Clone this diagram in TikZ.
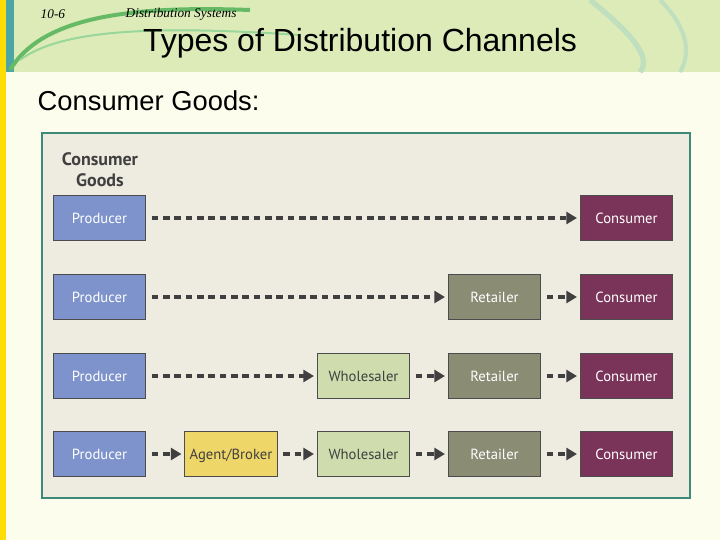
\documentclass[tikz,border=0pt]{standalone}
\usepackage{fontspec}
\setmainfont{Liberation Sans}
\newfontfamily\boxfont{PT Sans}
\newfontfamily\serifit{Liberation Serif}
\usetikzlibrary{arrows.meta}
\definecolor{hdr}{HTML}{DCEBB8}
\definecolor{slide}{HTML}{FDFDEE}
\definecolor{panel}{HTML}{EEEBE0}
\definecolor{pborder}{HTML}{3E8A78}
\definecolor{prod}{HTML}{7E93CB}
\definecolor{cons}{HTML}{7B3459}
\definecolor{ret}{HTML}{8A8C74}
\definecolor{whol}{HTML}{CFDDAE}
\definecolor{agent}{HTML}{EED668}
\definecolor{arr}{HTML}{404040}
\begin{document}
\begin{tikzpicture}[x=0.75pt,y=-0.75pt,
  box/.style={draw=black!70,line width=0.8pt,minimum width=69.5pt,minimum height=34pt,inner sep=0,text height=7.5pt,text depth=0pt,font=\boxfont\fontsize{11}{12}\selectfont},
  dk/.style={box,text=white},
  lt/.style={box,text=black!75},
  flow/.style={arr,line width=2.4pt,dash pattern=on 5pt off 3.5pt,-{Triangle[length=8pt,width=9pt]},shorten >=2pt,shorten <=4pt}]
\useasboundingbox (0,0) rectangle (720,540);
\fill[slide] (0,0) rectangle (720,540);
\fill[hdr] (0,0) rectangle (720,72);
\fill[yellow!80!orange] (0,0) rectangle (6,540);
\fill[teal!70] (6,0) rectangle (14,72);
\draw[green!55!black!60,line width=3pt] (10,70) .. controls (40,20) and (120,5) .. (250,10);
\draw[green!60!black!40,line width=1.5pt] (20,60) .. controls (60,30) and (150,25) .. (300,35);
\draw[green!50!black!25,line width=4pt] (590,0) .. controls (640,40) and (650,60) .. (640,72);
\draw[green!50!black!25,line width=3pt] (660,0) .. controls (690,30) and (690,55) .. (680,72);
\node[font=\serifit\itshape\fontsize{10}{12}\selectfont,anchor=west] (num) at (36,14) {10-6};
\node[font=\serifit\itshape\fontsize{10}{12}\selectfont,anchor=west] (sec) at (121,14) {Distribution Systems};
\node[font=\fontsize{24}{27}\selectfont] (title) at (360,43) {Types of Distribution Channels};
\node[font=\fontsize{20.5}{23}\selectfont,anchor=west] (cg) at (33,101) {Consumer Goods:};
\fill[panel] (42,133) rectangle (690,498);
\draw[pborder,line width=1pt] (42,133) rectangle (690,498);
\node[font=\boxfont\bfseries\fontsize{13.5}{16}\selectfont,text=black!75,align=center] (pt) at (100,170) {Consumer\\Goods};
% rows
\foreach \r/\y in {1/218,2/297,3/376,4/454}{
  \node[dk,fill=prod] (p\r) at (99.5,\y) {Producer};
  \node[dk,fill=cons] (c\r) at (626.5,\y) {Consumer};
}
\node[dk,fill=ret] (r2) at (494.5,297) {Retailer};
\node[dk,fill=ret] (r3) at (494.5,376) {Retailer};
\node[dk,fill=ret] (r4) at (494.5,454) {Retailer};
\node[lt,fill=whol] (w3) at (363.5,376) {Wholesaler};
\node[lt,fill=whol] (w4) at (363.5,454) {Wholesaler};
\node[lt,fill=agent] (a4) at (231,454) {Agent/Broker};
\draw[flow] (p1) -- (c1);
\draw[flow] (p2) -- (r2); \draw[flow] (r2) -- (c2);
\draw[flow] (p3) -- (w3); \draw[flow] (w3) -- (r3); \draw[flow] (r3) -- (c3);
\draw[flow] (p4) -- (a4); \draw[flow] (a4) -- (w4); \draw[flow] (w4) -- (r4); \draw[flow] (r4) -- (c4);
\end{tikzpicture}
\end{document}
